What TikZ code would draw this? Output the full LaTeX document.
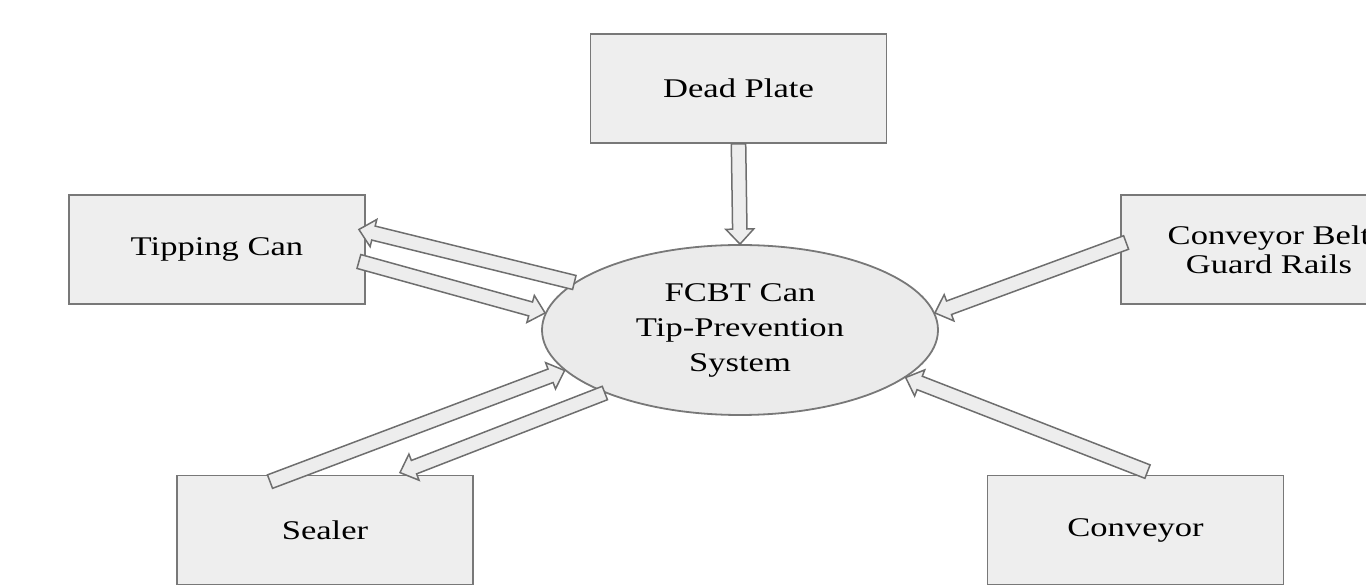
\documentclass[tikz,border=0pt]{standalone}
\usepackage{fontspec}
\setmainfont{Liberation Serif}[FakeStretch=1.28]
\usepackage{tikz}
\usetikzlibrary{shapes.geometric,calc}

\definecolor{boxfill}{HTML}{EEEEEE}
\definecolor{boxline}{HTML}{787878}
\definecolor{hubfill}{HTML}{EBEBEB}
\definecolor{arrowfill}{HTML}{EDEDED}
\definecolor{arrowline}{HTML}{6E6E6E}

\tikzset{
    every node/.style={font=\fontsize{13.5}{17.5}\selectfont},
    blockbox/.style={draw=boxline, fill=boxfill, line width=0.9pt, minimum width=148pt, minimum height=54.5pt, inner sep=0pt},
    hub/.style={ellipse, draw=boxline, fill=hubfill, line width=0.9pt, minimum width=198pt, minimum height=85pt, inner sep=0pt, align=center},
    fat arrow/.style={draw=arrowline, fill=arrowfill, line width=0.75pt, line join=miter}
}

% hollow block arrow from #1 to #2
\newcommand{\fatarrow}[2]{%
    \coordinate (hb) at ($(#2)!7.5pt!(#1)$);
    \filldraw[fat arrow] ($(#1)!3.6pt!90:(#2)$) -- ($(hb)!3.6pt!-90:(#1)$) -- ($(hb)!7pt!-90:(#1)$) -- (#2)
        -- ($(hb)!7pt!90:(#1)$) -- ($(hb)!3.6pt!90:(#1)$) -- ($(#1)!3.6pt!-90:(#2)$) -- cycle;}

\begin{document}
\begin{tikzpicture}[x=0.5pt, y=-0.5pt]
    % Frame of the figure
    \useasboundingbox (0,0) rectangle (1366,587);
    \clip (0,0) rectangle (1366,587);

    % Central system
    \node[hub] (hub) at (740,330) {FCBT Can\\Tip-Prevention\\System};

    % Surrounding parts
    \node[blockbox] (plate) at (738.5,88.5) {Dead Plate};
    \node[blockbox] (tipping) at (217,249.5) {Tipping Can};
    \node[blockbox, align=center, font=\fontsize{13.5}{14.5}\selectfont] (rails) at (1269,249.5) {Conveyor Belt\\Guard Rails};
    \node[blockbox] (sealer) at (325,530) {Sealer};
    \node[blockbox] (conveyor) at (1135.5,530) {Conveyor};

    % Arrow ends on the boxes
    \coordinate (tipout) at ($(tipping.east)+(-7,-20)$);
    \coordinate (tipin) at ($(tipping.east)+(-7,12)$);
    \coordinate (sealout) at ($(sealer.north)+(-55,7)$);
    \coordinate (sealin) at ($(sealer.north)+(75,-2)$);
    \coordinate (railout) at ($(rails.west)+(6,-7)$);
    \coordinate (convout) at ($(conveyor.north)+(12,-3)$);

    % Arrows
    \fatarrow{plate.south}{hub.north}
    \fatarrow{hub.164}{tipout}
    \fatarrow{tipin}{hub.175}
    \fatarrow{sealout}{hub.193}
    \fatarrow{hub.205}{sealin}
    \fatarrow{railout}{hub.5}
    \fatarrow{convout}{hub.344}
\end{tikzpicture}
\end{document}
